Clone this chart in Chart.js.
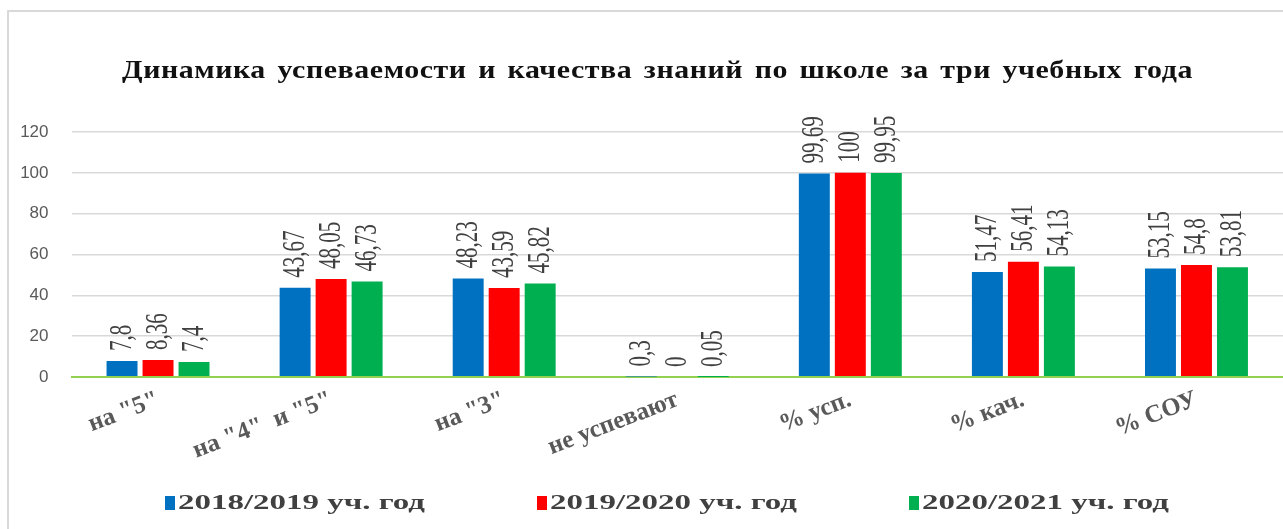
<!DOCTYPE html>
<html>
<head>
<meta charset="utf-8">
<script src="https://cdn.jsdelivr.net/npm/chart.js@4.4.1/dist/chart.umd.min.js"></script>
<style>
  html, body { margin: 0; padding: 0; background: #fff; overflow: hidden; }
  #wrap { position: relative; width: 1283px; height: 529px; }
  #frame { position: absolute; left: 7px; top: 10px; width: 1300px; height: 540px;
           border-left: 2px solid #d9d9d9; border-top: 2px solid #d9d9d9; box-sizing: border-box; pointer-events: none; }
  canvas { position: absolute; left: 0; top: 0; }
</style>
</head>
<body>
<div id="wrap">
  <canvas id="c" width="1283" height="529"></canvas>
  <div id="frame"></div>
</div>
<script>
const categories = ['на "5"', 'на "4"  и "5"', 'на "3"', 'не успевают', '% усп.', '% кач.', '% СОУ'];
const seriesNames = ['2018/2019 уч. год', '2019/2020 уч. год', '2020/2021 уч. год'];
const values2018 = [7.8, 43.67, 48.23, 0.3, 99.69, 51.47, 53.15];
const values2019 = [8.36, 48.05, 43.59, 0, 100, 56.41, 54.8];
const values2020 = [7.4, 46.73, 45.82, 0.05, 99.95, 54.13, 53.81];
const seriesColors = ['#0070C0', '#FF0000', '#00B050'];
const yTicks = [0, 20, 40, 60, 80, 100, 120];
const titleText = 'Динамика успеваемости и качества знаний по школе за три учебных года';

const SERIF = '"Liberation Serif", "Times New Roman", serif';

// Title drawn as real canvas text, words spread over the reference title width
const titlePlugin = {
  id: 'wideTitle',
  afterDraw(chart) {
    const ctx = chart.ctx;
    ctx.save();
    ctx.font = 'bold 26px ' + SERIF;
    if ('letterSpacing' in ctx) ctx.letterSpacing = '0.5px';
    ctx.fillStyle = '#111111';
    ctx.textAlign = 'left';
    ctx.textBaseline = 'alphabetic';
    const sx = 1.15, left = 122, width = 1071, base = 78;
    const words = titleText.split(' ');
    const ws = words.map(w => ctx.measureText(w).width * sx);
    const gap = Math.max(8, (width - ws.reduce((a, b) => a + b, 0)) / (words.length - 1));
    let x = left;
    words.forEach((w, i) => {
      ctx.save();
      ctx.translate(x, base);
      ctx.scale(sx, 1);
      ctx.fillText(w, 0, 0);
      ctx.restore();
      x += ws[i] + gap;
    });
    ctx.restore();
  }
};

const dataLabelPlugin = {
  id: 'dataLabels',
  afterDatasetsDraw(chart) {
    const ctx = chart.ctx;
    ctx.save();
    ctx.fillStyle = '#404040';
    ctx.font = '21px ' + SERIF;
    ctx.textAlign = 'left';
    ctx.textBaseline = 'middle';
    chart.data.datasets.forEach((ds, di) => {
      const meta = chart.getDatasetMeta(di);
      meta.data.forEach((bar, i) => {
        const txt = String(ds.data[i]).replace('.', ',');
        ctx.save();
        ctx.translate(bar.x, bar.y - 10);
        ctx.rotate(-Math.PI / 2);
        ctx.scale(1, 1.5);
        ctx.fillText(txt, 0, 0.5);
        ctx.restore();
      });
    });
    ctx.restore();
  }
};

const legendPlugin = {
  id: 'customLegend',
  afterDraw(chart) {
    const ctx = chart.ctx;
    ctx.save();
    ctx.font = 'bold 21px ' + SERIF;
    ctx.textBaseline = 'middle';
    ctx.textAlign = 'left';
    const box = 10, gapBox = 3, gapItem = 112, cy = 503, textW = 247;
    const items = chart.data.datasets.map(ds => ({
      label: ds.label, color: ds.backgroundColor,
      sx: textW / ctx.measureText(ds.label).width
    }));
    items.forEach(it => it.w = box + gapBox + textW);
    const total = items.reduce((s, it) => s + it.w, 0) + gapItem * (items.length - 1);
    let x = 667 - total / 2;
    items.forEach(it => {
      ctx.fillStyle = it.color;
      ctx.fillRect(x, cy - 7, box, 14);
      ctx.fillStyle = '#404040';
      ctx.save();
      ctx.translate(x + box + gapBox, cy + 1);
      ctx.scale(it.sx, 1);
      ctx.fillText(it.label, 0, 0);
      ctx.restore();
      x += it.w + gapItem;
    });
    ctx.restore();
  }
};

const datasets = [values2018, values2019, values2020].map((vals, k) => ({
  label: seriesNames[k],
  data: vals,
  backgroundColor: seriesColors[k],
  borderWidth: 0,
  categoryPercentage: 0.624,
  barPercentage: 0.86
}));

new Chart(document.getElementById('c'), {
  type: 'bar',
  data: { labels: categories, datasets },
  plugins: [dataLabelPlugin, legendPlugin, titlePlugin],
  options: {
    responsive: false,
    animation: false,
    layout: { padding: { left: 10, right: 0, top: 132, bottom: 60 } },
    plugins: {
      legend: { display: false },
      tooltip: { enabled: false },
      title: { display: false }
    },
    scales: {
      x: {
        grid: { display: false, drawTicks: false },
        border: { display: true, color: '#92D050', width: 2 },
        ticks: {
          color: '#595959',
          font: { family: SERIF, size: 25, weight: 'bold' },
          minRotation: 21, maxRotation: 21, autoSkip: false, padding: 8
        },
        afterFit(scale) { scale.height = 92; }
      },
      y: {
        min: 0, max: 120,
        afterBuildTicks(scale) { scale.ticks = yTicks.map(v => ({ value: v })); },
        grid: {
          color: ctx => ctx.tick && ctx.tick.value === 0 ? '#92D050' : '#d9d9d9',
          lineWidth: ctx => ctx.tick && ctx.tick.value === 0 ? 2 : 1.5,
          drawTicks: false
        },
        border: { display: false },
        ticks: {
          color: '#595959',
          font: { family: '"Liberation Sans", Arial, sans-serif', size: 17 },
          padding: 23
        },
        afterFit(scale) { scale.width = 61.5; }
      }
    }
  }
});
</script>
</body>
</html>
